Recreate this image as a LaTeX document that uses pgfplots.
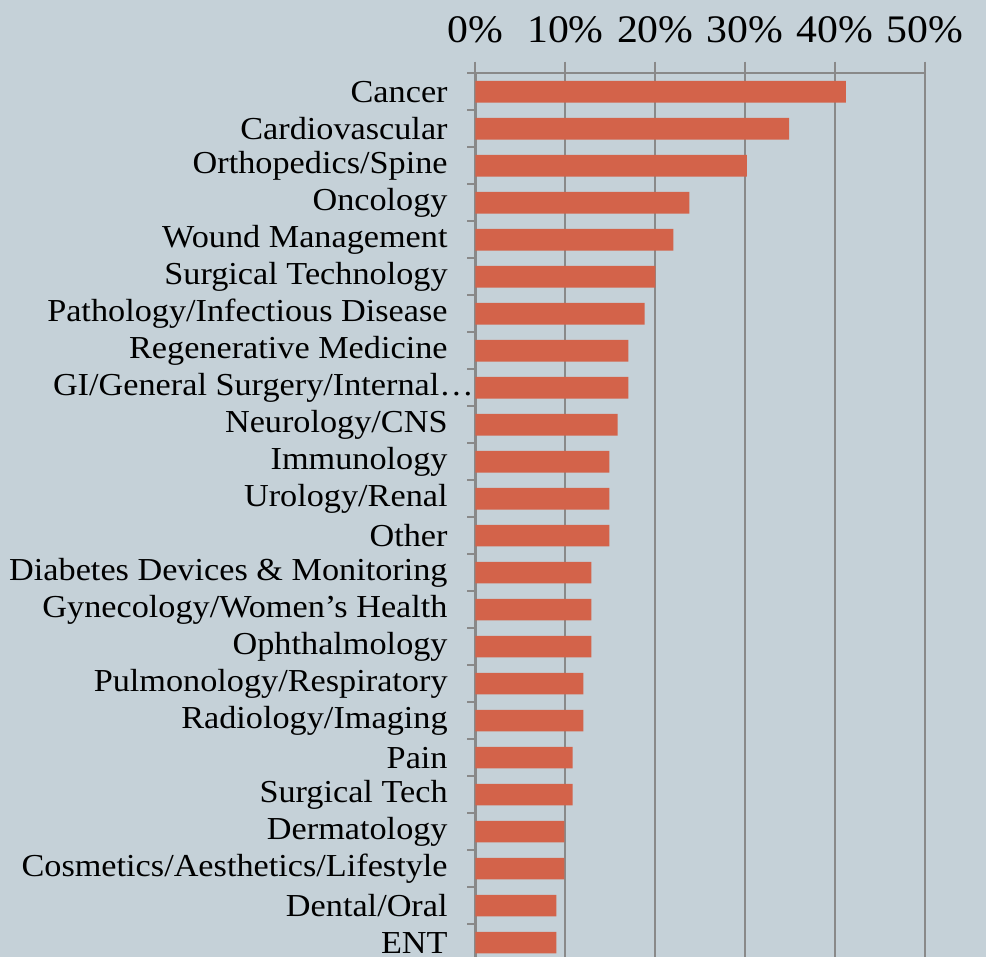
\documentclass[border=0pt]{standalone}
\usepackage{fontspec}
\setmainfont[FakeStretch=1.07]{Liberation Serif}
\usepackage{pgfplots}
\pgfplotsset{compat=1.18}
\definecolor{bgc}{RGB}{197,209,216}
\definecolor{barc}{RGB}{211,99,74}
\definecolor{gridc}{RGB}{137,137,137}
\begin{document}
\begin{tikzpicture}
\fill[bgc] (-237.75pt,-441.85pt) rectangle (255.25pt,36.65pt);
\begin{axis}[
  at={(0pt,0pt)}, anchor=north west,
  scale only axis, width=224.75pt, height=443.9pt,
  xmin=0, xmax=50, ymin=-0.5, ymax=23.5,
  axis x line=top, axis y line=left,
  axis line style={gridc, line width=1.2pt, -},
  xmajorgrids=true, grid style={gridc, line width=1pt},
  tick align=outside,
  major tick length=4.2pt,
  tick style={gridc, line width=1pt},
  xtick={0,10,20,30,40,50},
  xticklabels={0\%,10\%,20\%,30\%,40\%,50\%},
  xticklabel style={font=\fontsize{19.5}{21}\selectfont, text=black, yshift=7.5pt},
  extra x ticks={0,10,20,30,40,50},
  extra x tick labels={},
  extra x tick style={major tick length=5.8pt},
  ytick={-0.5,0.5,...,23.5}, yticklabels={},
  extra y ticks={0,1,...,23},
  extra y tick labels={ENT,Dental/Oral,Cosmetics/Aesthetics/Lifestyle,Dermatology,Surgical Tech,Pain,Radiology/Imaging,Pulmonology/Respiratory,Ophthalmology,Gynecology/Women’s Health,Diabetes Devices \& Monitoring,Other,Urology/Renal,Immunology,Neurology/CNS,GI/General Surgery/Internal…\hspace*{-13pt},Regenerative Medicine,Pathology/Infectious Disease,Surgical Technology,Wound Management,Oncology,Orthopedics/Spine,Cardiovascular,Cancer},
  extra y tick style={major tick length=0pt, yticklabel style={font=\fontsize{16}{18}\selectfont, text=black, anchor=east, inner sep=0pt, xshift=-13.75pt}},
  /pgf/number format/assume math mode=true,
  clip=false,
]
\addplot[xbar, bar width=10.8pt, fill=barc, draw=none] coordinates {
(9.0,0) (9.0,1) (9.9,2) (9.9,3) (10.8,4) (10.8,5) (12.0,6) (12.0,7)
(12.9,8) (12.9,9) (12.9,10) (14.9,11) (14.9,12) (14.9,13) (15.8,14)
(17.0,15) (17.0,16) (18.8,17) (20.0,18) (22.0,19) (23.8,20) (30.2,21)
(34.9,22) (41.2,23)};
\end{axis}
\pgfresetboundingbox
\useasboundingbox (-237.75pt,-441.85pt) rectangle (255.25pt,36.65pt);
\end{tikzpicture}
\end{document}
